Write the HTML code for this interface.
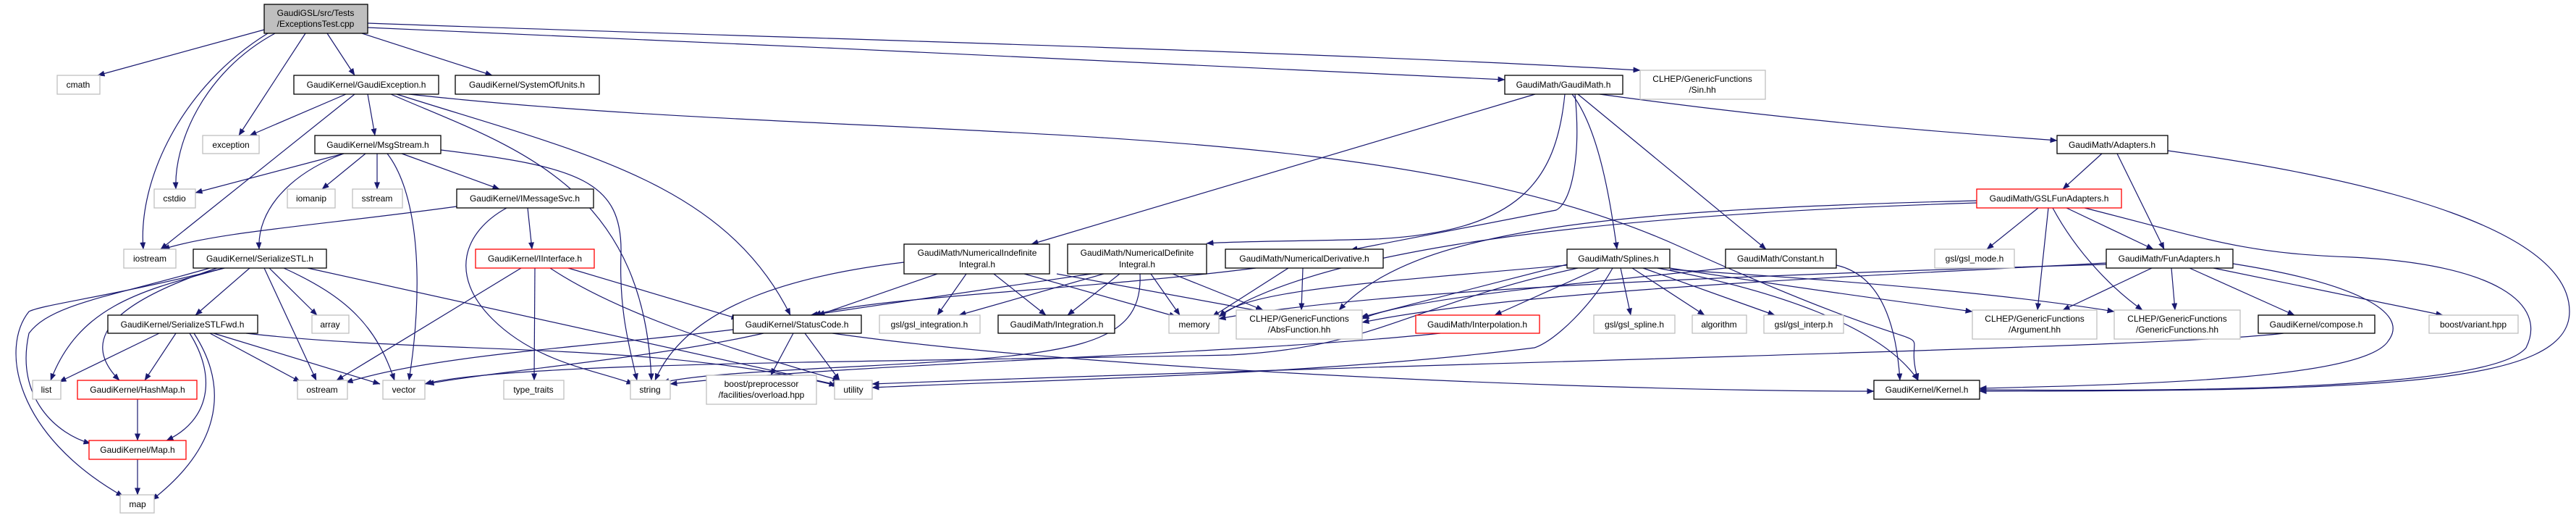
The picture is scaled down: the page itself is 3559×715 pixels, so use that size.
<!DOCTYPE html>
<html><head><meta charset="utf-8"><style>
html,body{margin:0;padding:0;background:#fff;}
svg{display:block;}
text{font-family:"Liberation Sans",sans-serif;font-size:12px;fill:#000;text-anchor:middle;}
.e{fill:none;stroke:#191970;stroke-width:1.2;marker-end:url(#a);}
.b{fill:#fff;stroke:#000;stroke-width:1.3;}
.g{fill:#fff;stroke:#bfbfbf;stroke-width:1.3;}
.r{fill:#fff;stroke:#ff0000;stroke-width:1.3;}
</style></head><body>
<svg width="3559" height="715" viewBox="0 0 3559 715" xmlns="http://www.w3.org/2000/svg">
<defs><marker id="a" markerWidth="10" markerHeight="8" refX="9.5" refY="4" orient="auto" markerUnits="userSpaceOnUse"><path d="M0,0 L10,4 L0,8z" fill="#191970"/></marker></defs>
<g>
<path class="e" d="M365 41 L135 104"/>
<path class="e" d="M380 46 C280 100,240 200,243 261"/>
<path class="e" d="M370 46 C250 120,190 250,198 344"/>
<path class="e" d="M422 46 L330 187"/>
<path class="e" d="M452 46 L490 104"/>
<path class="e" d="M500 46 L680 104"/>
<path class="e" d="M508 32 C1000 50,1800 70,2266 97"/>
<path class="e" d="M508 38 C1000 60,1700 90,2079 110"/>
<path class="e" d="M478 130 L345 187"/>
<path class="e" d="M490 130 L222 344"/>
<path class="e" d="M508 130 L518 187"/>
<path class="e" d="M548 130 C800 210,1000 250,1092 435"/>
<path class="e" d="M565 130 C1200 200,1900 150,2320 340 S2620 420,2650 525"/>
<path class="e" d="M540 130 C700 200,890 250,900 525"/>
<path class="e" d="M475 212 L270 266"/>
<path class="e" d="M505 212 L445 261"/>
<path class="e" d="M521 212 L521 261"/>
<path class="e" d="M535 212 C580 270,585 400,565 525"/>
<path class="e" d="M555 212 L690 261"/>
<path class="e" d="M475 212 C400 240,355 290,358 344"/>
<path class="e" d="M609 207 C800 230,860 250,858 350 C855 430,870 480,880 525"/>
<path class="e" d="M631 285 C450 310,300 320,225 344"/>
<path class="e" d="M729 287 L735 344"/>
<path class="e" d="M700 287 C640 320,620 380,680 440 C740 500,820 510,875 530"/>
<path class="e" d="M720 370 L465 525"/>
<path class="e" d="M739 370 L738 525"/>
<path class="e" d="M785 370 L1020 440"/>
<path class="e" d="M760 370 C850 430,1000 480,1160 525"/>
<path class="e" d="M310 370 C200 400,110 420,70 525"/>
<path class="e" d="M300 370 C180 410,100 460,165 525"/>
<path class="e" d="M290 370 C150 410,70 420,40 460 C20 550,80 600,125 612"/>
<path class="e" d="M310 370 C150 410,60 420,40 430 C0 480,20 600,170 685"/>
<path class="e" d="M345 370 L270 435"/>
<path class="e" d="M372 370 L438 435"/>
<path class="e" d="M365 370 L437 525"/>
<path class="e" d="M392 370 C480 410,520 450,545 525"/>
<path class="e" d="M425 370 L1160 532"/>
<path class="e" d="M220 460 L82 527"/>
<path class="e" d="M243 460 L200 525"/>
<path class="e" d="M262 460 C300 520,290 580,230 608"/>
<path class="e" d="M268 460 C320 540,300 620,210 690"/>
<path class="e" d="M290 460 L415 527"/>
<path class="e" d="M295 460 L525 530"/>
<path class="e" d="M340 460 C600 490,900 470,1155 532"/>
<path class="e" d="M190 551 L190 608"/>
<path class="e" d="M190 634 L190 683"/>
<path class="e" d="M1013 455 C800 480,600 490,478 528"/>
<path class="e" d="M1096 460 L1065 518"/>
<path class="e" d="M1112 460 L1160 525"/>
<path class="e" d="M1150 460 C1500 510,2200 540,2589 540"/>
<path class="e" d="M1055 460 C900 495,700 510,590 530"/>
<path class="e" d="M1295 378 L1130 435"/>
<path class="e" d="M1335 378 L1295 435"/>
<path class="e" d="M1373 378 L1445 435"/>
<path class="e" d="M1415 378 L1625 437"/>
<path class="e" d="M1460 378 L1744 430"/>
<path class="e" d="M1249 362 C1100 380,950 420,905 525"/>
<path class="e" d="M1508 378 L1120 435"/>
<path class="e" d="M1525 378 L1325 435"/>
<path class="e" d="M1547 378 L1475 435"/>
<path class="e" d="M1590 378 L1630 435"/>
<path class="e" d="M1620 378 L1745 428"/>
<path class="e" d="M1575 378 C1580 480,1480 490,1200 505 C1000 515,950 520,915 528"/>
<path class="e" d="M1735 370 C1500 400,1200 410,1125 435"/>
<path class="e" d="M1780 370 L1675 437"/>
<path class="e" d="M1800 370 L1798 428"/>
<path class="e" d="M2121 130 L1425 337"/>
<path class="e" d="M2162 130 C2150 250,2100 320,1900 330 C1800 333,1700 333,1667 336"/>
<path class="e" d="M2176 130 C2185 220,2170 280,2150 290 L1866 345"/>
<path class="e" d="M2172 130 C2210 180,2225 280,2234 344"/>
<path class="e" d="M2180 130 L2440 344"/>
<path class="e" d="M2210 130 C2500 170,2700 183,2842 194"/>
<path class="e" d="M2165 365 L1880 438"/>
<path class="e" d="M2210 370 L2065 435"/>
<path class="e" d="M2239 370 L2253 435"/>
<path class="e" d="M2255 370 L2355 435"/>
<path class="e" d="M2270 370 L2452 435"/>
<path class="e" d="M2290 370 C2450 400,2600 450,2650 525"/>
<path class="e" d="M2165 366 C1900 390,1720 400,1685 437"/>
<path class="e" d="M2228 370 C2200 420,2150 470,2120 480 C1800 520,1400 525,1205 535"/>
<path class="e" d="M2180 370 C1950 420,1900 480,1700 490 C1200 500,700 500,587 530"/>
<path class="e" d="M2307 370 C2500 400,2650 420,2725 430"/>
<path class="e" d="M2307 372 C2600 390,2800 410,2921 430"/>
<path class="e" d="M2384 370 C2200 390,1950 410,1882 440"/>
<path class="e" d="M2537 366 C2600 380,2620 450,2625 525"/>
<path class="e" d="M1990 460 C1700 490,1200 500,926 530"/>
<path class="e" d="M2904 212 L2850 261"/>
<path class="e" d="M2925 212 L2990 344"/>
<path class="e" d="M2995 208 C3300 250,3550 320,3550 430 C3550 530,3300 540,2735 540"/>
<path class="e" d="M2816 287 L2745 344"/>
<path class="e" d="M2830 287 L2815 428"/>
<path class="e" d="M2836 287 C2870 350,2920 400,2960 428"/>
<path class="e" d="M2855 287 L2975 344"/>
<path class="e" d="M2880 287 C3050 330,3100 350,3250 355 C3450 365,3520 420,3490 480 C3440 540,3000 540,2735 538"/>
<path class="e" d="M2731 277 C2200 290,1950 320,1850 428"/>
<path class="e" d="M2731 280 C2100 300,1800 360,1684 437"/>
<path class="e" d="M2973 370 L2850 428"/>
<path class="e" d="M3000 370 L3005 428"/>
<path class="e" d="M3025 370 L3170 435"/>
<path class="e" d="M3058 370 L3375 435"/>
<path class="e" d="M3085 364 C3250 390,3330 430,3300 470 C3270 520,3000 530,2735 536"/>
<path class="e" d="M2910 363 C2600 380,2100 400,1882 445"/>
<path class="e" d="M2910 365 C2400 380,1900 400,1684 440"/>
<path class="e" d="M3155 460 C3000 480,2000 500,1205 530"/>
</g>
<g>
<rect x="365" y="6" width="143" height="40" fill="#bfbfbf" stroke="#000" stroke-width="1.3"/><text x="436" y="22">GaudiGSL/src/Tests</text><text x="436" y="37">/ExceptionsTest.cpp</text>
<rect class="g" x="79" y="104" width="59" height="26"/><text x="108" y="121">cmath</text>
<rect class="b" x="406" y="104" width="200" height="26"/><text x="506" y="121">GaudiKernel/GaudiException.h</text>
<rect class="b" x="629" y="104" width="199" height="26"/><text x="728" y="121">GaudiKernel/SystemOfUnits.h</text>
<rect class="b" x="2079" y="104" width="163" height="26"/><text x="2160" y="121">GaudiMath/GaudiMath.h</text>
<rect class="g" x="2266" y="97" width="173" height="40"/><text x="2352" y="113">CLHEP/GenericFunctions</text><text x="2352" y="128">/Sin.hh</text>
<rect class="g" x="280" y="187" width="78" height="25"/><text x="319" y="204">exception</text>
<rect class="b" x="435" y="187" width="174" height="25"/><text x="522" y="204">GaudiKernel/MsgStream.h</text>
<rect class="b" x="2842" y="187" width="153" height="25"/><text x="2918" y="204">GaudiMath/Adapters.h</text>
<rect class="g" x="213" y="261" width="57" height="26"/><text x="241" y="278">cstdio</text>
<rect class="g" x="397" y="261" width="66" height="26"/><text x="430" y="278">iomanip</text>
<rect class="g" x="487" y="261" width="69" height="26"/><text x="521" y="278">sstream</text>
<rect class="b" x="631" y="261" width="189" height="26"/><text x="725" y="278">GaudiKernel/IMessageSvc.h</text>
<rect class="r" x="2731" y="261" width="200" height="26"/><text x="2831" y="278">GaudiMath/GSLFunAdapters.h</text>
<rect class="g" x="171" y="344" width="72" height="26"/><text x="207" y="361">iostream</text>
<rect class="b" x="267" y="344" width="184" height="26"/><text x="359" y="361">GaudiKernel/SerializeSTL.h</text>
<rect class="r" x="657" y="344" width="164" height="26"/><text x="739" y="361">GaudiKernel/IInterface.h</text>
<rect class="b" x="1249" y="337" width="201" height="41"/><text x="1350" y="353">GaudiMath/NumericalIndefinite</text><text x="1350" y="369">Integral.h</text>
<rect class="b" x="1475" y="337" width="192" height="41"/><text x="1571" y="353">GaudiMath/NumericalDefinite</text><text x="1571" y="369">Integral.h</text>
<rect class="b" x="1693" y="344" width="218" height="26"/><text x="1802" y="361">GaudiMath/NumericalDerivative.h</text>
<rect class="b" x="2165" y="344" width="142" height="26"/><text x="2236" y="361">GaudiMath/Splines.h</text>
<rect class="b" x="2384" y="344" width="153" height="26"/><text x="2460" y="361">GaudiMath/Constant.h</text>
<rect class="g" x="2673" y="344" width="110" height="26"/><text x="2728" y="361">gsl/gsl_mode.h</text>
<rect class="b" x="2910" y="344" width="175" height="26"/><text x="2997" y="361">GaudiMath/FunAdapters.h</text>
<rect class="b" x="149" y="435" width="207" height="25"/><text x="252" y="452">GaudiKernel/SerializeSTLFwd.h</text>
<rect class="g" x="431" y="435" width="51" height="25"/><text x="456" y="452">array</text>
<rect class="b" x="1013" y="435" width="177" height="25"/><text x="1101" y="452">GaudiKernel/StatusCode.h</text>
<rect class="g" x="1215" y="435" width="139" height="25"/><text x="1284" y="452">gsl/gsl_integration.h</text>
<rect class="b" x="1379" y="435" width="161" height="25"/><text x="1460" y="452">GaudiMath/Integration.h</text>
<rect class="g" x="1615" y="435" width="69" height="25"/><text x="1650" y="452">memory</text>
<rect class="g" x="1708" y="428" width="174" height="40"/><text x="1795" y="444">CLHEP/GenericFunctions</text><text x="1795" y="459">/AbsFunction.hh</text>
<rect class="r" x="1956" y="435" width="171" height="25"/><text x="2041" y="452">GaudiMath/Interpolation.h</text>
<rect class="g" x="2202" y="435" width="112" height="25"/><text x="2258" y="452">gsl/gsl_spline.h</text>
<rect class="g" x="2338" y="435" width="75" height="25"/><text x="2375" y="452">algorithm</text>
<rect class="g" x="2437" y="435" width="110" height="25"/><text x="2492" y="452">gsl/gsl_interp.h</text>
<rect class="g" x="2725" y="428" width="172" height="40"/><text x="2811" y="444">CLHEP/GenericFunctions</text><text x="2811" y="459">/Argument.hh</text>
<rect class="g" x="2921" y="428" width="174" height="40"/><text x="3008" y="444">CLHEP/GenericFunctions</text><text x="3008" y="459">/GenericFunctions.hh</text>
<rect class="b" x="3120" y="435" width="161" height="25"/><text x="3200" y="452">GaudiKernel/compose.h</text>
<rect class="g" x="3356" y="435" width="123" height="25"/><text x="3417" y="452">boost/variant.hpp</text>
<rect class="g" x="45" y="525" width="39" height="26"/><text x="64" y="542">list</text>
<rect class="r" x="107" y="525" width="165" height="26"/><text x="190" y="542">GaudiKernel/HashMap.h</text>
<rect class="g" x="411" y="525" width="69" height="26"/><text x="445" y="542">ostream</text>
<rect class="g" x="529" y="525" width="58" height="26"/><text x="558" y="542">vector</text>
<rect class="g" x="696" y="525" width="83" height="26"/><text x="737" y="542">type_traits</text>
<rect class="g" x="871" y="525" width="55" height="26"/><text x="898" y="542">string</text>
<rect class="g" x="976" y="518" width="152" height="40"/><text x="1052" y="534">boost/preprocessor</text><text x="1052" y="549">/facilities/overload.hpp</text>
<rect class="g" x="1153" y="525" width="52" height="26"/><text x="1179" y="542">utility</text>
<rect class="b" x="2589" y="525" width="146" height="26"/><text x="2662" y="542">GaudiKernel/Kernel.h</text>
<rect class="r" x="123" y="608" width="134" height="26"/><text x="190" y="625">GaudiKernel/Map.h</text>
<rect class="g" x="166" y="683" width="47" height="25"/><text x="190" y="700">map</text>
</g>
</svg>
</body></html>
